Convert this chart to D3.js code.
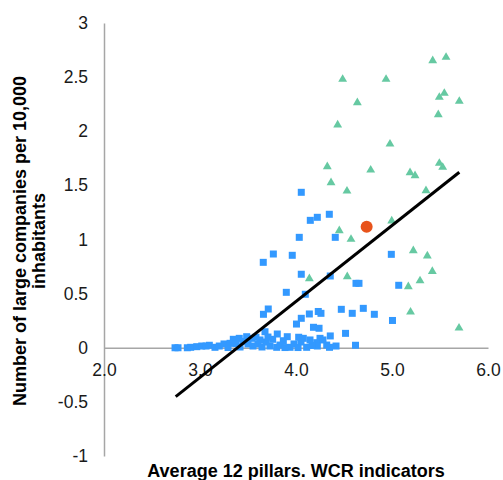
<!DOCTYPE html>
<html><head><meta charset="utf-8">
<script src="https://cdn.jsdelivr.net/npm/d3@7"></script>
<style>body{margin:0;background:#fff}svg{display:block}</style>
</head><body>
<svg id="c" width="503" height="480"></svg>
<script>
// Blue squares
const blueX = [4.055,4.149,4.222,4.347,4.034,4.409,3.764,3.961,3.659,4.055,4.357,4.625,4.656,4.993,5.070,5.005,3.899,4.097,3.711,3.661,4.055,4.139,4.232,4.260,4.472,4.586,4.701,4.816,4.005,4.182,4.240,4.357,4.516,4.620,3.805,3.909,3.757,3.868,4.028,4.076,4.250,4.216,3.979,4.052,3.799,3.938,4.111,4.222,4.320,4.349,2.740,2.771,2.868,2.903,2.966,3.018,3.063,3.097,3.156,3.201,3.250,3.313,3.347,3.409,3.486,3.539,3.583,3.677,3.375,3.448,3.500,3.552,3.604,3.646,3.688,3.729,3.292,3.417,3.625,3.708,3.833,3.885,4.021,4.167,4.146,4.281,4.417];
const blueY = [1.436,1.177,1.205,1.233,1.020,1.020,0.866,0.854,0.789,0.679,0.663,0.595,0.595,0.863,0.577,0.252,0.512,0.494,0.358,0.309,0.272,0.312,0.335,0.318,0.355,0.318,0.364,0.309,0.219,0.189,0.180,0.109,0.133,0.023,0.127,0.102,0.078,0.065,0.097,0.087,0.087,0.047,0.035,0.053,0.004,0.004,0.004,0.016,0.025,0.004,0.000,0.000,0.000,0.004,0.010,0.016,0.016,0.023,0.004,0.016,0.035,0.041,0.078,0.087,0.102,0.087,0.097,0.148,0.039,0.058,0.035,0.016,0.035,0.007,0.053,0.016,0.002,0.007,0.072,0.099,0.025,0.002,0.002,0.021,0.072,0.072,0.016];
// Green triangles
const greenX = [5.424,5.563,4.486,4.938,4.639,5.493,5.545,5.701,5.482,4.434,4.979,4.326,4.778,5.188,5.240,5.493,5.528,5.354,4.365,4.531,4.997,4.451,4.573,4.139,4.534,5.222,5.368,5.420,5.292,5.170,5.193,5.698];
const greenY = [2.652,2.683,2.480,2.480,2.264,2.314,2.351,2.277,2.153,2.058,1.882,1.673,1.642,1.617,1.589,1.704,1.667,1.451,1.525,1.448,1.171,1.081,1.002,0.638,0.656,0.897,0.848,0.706,0.619,0.564,0.330,0.182];
// Orange highlighted point
const orangeX = [4.736];
const orangeY = [1.118];
// Trend line end points
const trendX = [2.747, 5.701];
const trendY = [-0.452, 1.621];
// Axis ticks
const xTicks = [2.0, 3.0, 4.0, 5.0, 6.0];
const yTicks = [-1, -0.5, 0, 0.5, 1, 1.5, 2, 2.5, 3];
const xTitle = "Average 12 pillars. WCR indicators";
const yTitle = ["Number of large companies per 10,000", "inhabitants"];

const svg = d3.select("#c");
const x = d3.scaleLinear().domain([2, 6]).range([104, 488]);
const y = d3.scaleLinear().domain([-1, 3]).range([456, 23]);
const font = "Arial, 'Liberation Sans', sans-serif";

// axes
const yAxis = d3.axisLeft(y).tickValues(yTicks).tickSize(0).tickPadding(16)
  .tickFormat(d => String(d));
const gy = svg.append("g").attr("transform", `translate(${x(2)},0)`).call(yAxis);
gy.select(".domain").attr("stroke", "#a6a6a6").attr("stroke-width", 1.5);
gy.selectAll("text").attr("font-family", font).attr("font-size", 17.5).attr("fill", "#1a1a1a");

const xAxis = d3.axisBottom(x).tickValues(xTicks).tickSize(0).tickPadding(16)
  .tickFormat(d3.format(".1f"));
const gx = svg.append("g").attr("transform", `translate(0,${y(0)})`).call(xAxis);
gx.select(".domain").attr("stroke", "#a6a6a6").attr("stroke-width", 1.5);
gx.selectAll("text").attr("font-family", font).attr("font-size", 17.5).attr("fill", "#1a1a1a");

// blue squares
const blue = blueX.map((v, i) => [v, blueY[i]]);
svg.append("g").selectAll("rect").data(blue).join("rect")
  .attr("x", d => x(d[0]) - 3.5).attr("y", d => y(d[1]) - 3.5)
  .attr("width", 7).attr("height", 7).attr("fill", "#3399ff");

// green triangles
const green = greenX.map((v, i) => [v, greenY[i]]);
const tri = d3.symbol().type(d3.symbolTriangle).size(34);
svg.append("g").selectAll("path").data(green).join("path")
  .attr("d", tri).attr("transform", d => `translate(${x(d[0])},${y(d[1])})`)
  .attr("fill", "#66c9a2");

// trend line
const trend = trendX.map((v, i) => [v, trendY[i]]);
svg.append("path").datum(trend)
  .attr("d", d3.line().x(d => x(d[0])).y(d => y(d[1])))
  .attr("stroke", "#000").attr("stroke-width", 3).attr("fill", "none");

// orange point
const orange = orangeX.map((v, i) => [v, orangeY[i]]);
svg.append("g").selectAll("circle").data(orange).join("circle")
  .attr("cx", d => x(d[0])).attr("cy", d => y(d[1])).attr("r", 6)
  .attr("fill", "#e8531b");

// titles
svg.append("text").attr("x", 296).attr("y", 477).attr("text-anchor", "middle")
  .attr("font-family", font).attr("font-size", 18).attr("font-weight", "bold")
  .attr("fill", "#000").text(xTitle);
const yt = svg.append("text").attr("transform", "translate(0,241) rotate(-90)")
  .attr("text-anchor", "middle").attr("font-family", font).attr("font-size", 18)
  .attr("font-weight", "bold").attr("fill", "#000");
yt.append("tspan").attr("x", 0).attr("y", 26).text(yTitle[0]);
yt.append("tspan").attr("x", 0).attr("y", 45).text(yTitle[1]);
</script>
</body></html>
